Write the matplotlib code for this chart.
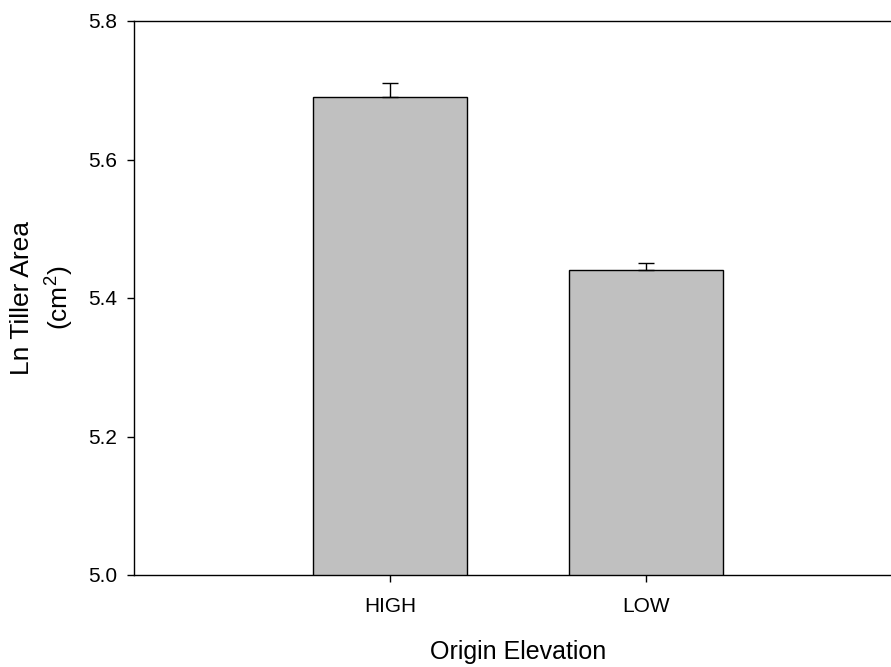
import matplotlib
matplotlib.use("Agg")
import matplotlib.pyplot as plt

# data
categories = ["HIGH", "LOW"]
means = [5.69, 5.44]
upper_err = [0.02, 0.01]
y_ticks = [5.0, 5.2, 5.4, 5.6, 5.8]

plt.rcParams['font.family'] = ['Liberation Sans', 'DejaVu Sans']
plt.rcParams['mathtext.fontset'] = 'custom'
plt.rcParams['mathtext.rm'] = 'Liberation Sans'
plt.rcParams['mathtext.it'] = 'Liberation Sans'

fig = plt.figure(figsize=(8.91, 6.67), dpi=100)
# axes runs a bit past the right edge, like the cropped original
ax = fig.add_axes([134 / 891, 92 / 667, 768 / 891, 554 / 667])

x = [1, 2]
ax.bar(x, means, width=0.6, color='#c0c0c0', edgecolor='black', linewidth=1.0,
       yerr=[[0] * len(upper_err), upper_err], capsize=6,
       error_kw=dict(ecolor='black', elinewidth=1.0, capthick=1.0), zorder=2)

ax.set_xlim(0, 3)
ax.set_ylim(5.0, 5.8)
ax.set_xticks(x)
ax.set_xticklabels(categories)
ax.set_yticks(y_ticks)
ax.set_yticklabels([f"{t:.1f}" for t in y_ticks])
ax.tick_params(direction='out', length=5, width=1.0, labelsize=15)
ax.tick_params(axis='y', pad=7)
ax.tick_params(axis='x', pad=11)

ax.spines['right'].set_visible(False)
for s in ['left', 'bottom', 'top']:
    ax.spines[s].set_linewidth(1.0)

ax.set_xlabel('Origin Elevation', fontsize=18, labelpad=17)
ax.set_ylabel('Ln Tiller Area\n(cm$^2$)', fontsize=19, labelpad=9, linespacing=1.4)

fig.savefig('out.png', dpi=100)
